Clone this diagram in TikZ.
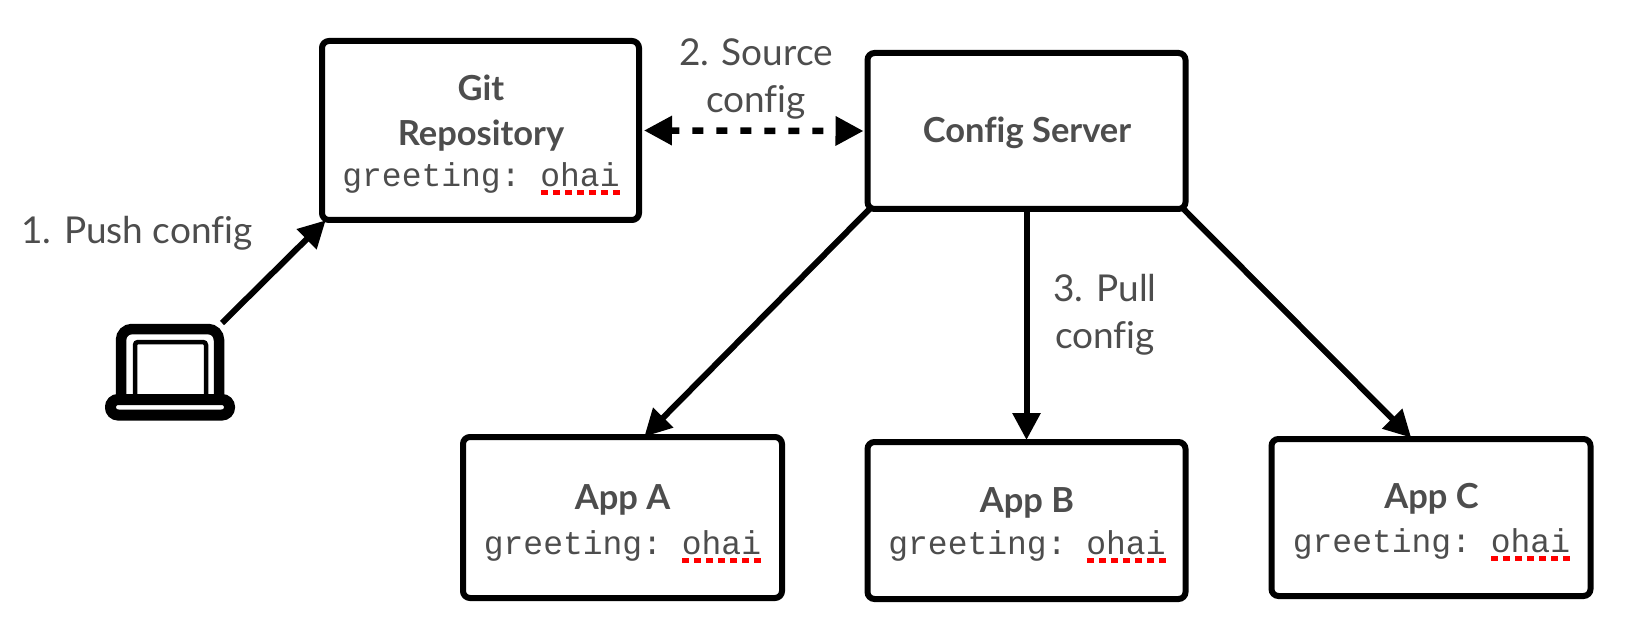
\documentclass[tikz,border=0pt]{standalone}
\usepackage{fontspec}
\setmainfont[Ligatures=NoCommon]{Lato}
\setmonofont{Liberation Mono}
\usetikzlibrary{arrows.meta,calc}
\definecolor{txt}{HTML}{4D4D4D}
\tikzset{
  x=1pt,y=-1pt,
  boxn/.style={draw=black,line width=6pt,rounded corners=7pt,fill=white,inner sep=0pt,minimum width=#1},
  lbl/.style={text=txt,font=\fontsize{37}{37}\selectfont,inner sep=0pt,align=center},
  ttl/.style={text=txt,font=\fontsize{34.5}{34.5}\selectfont\bfseries,inner sep=0pt},
  code/.style={text=txt,font=\fontsize{33}{33}\selectfont\ttfamily,inner sep=0pt},
  conn/.style={line width=6pt,-{Triangle[length=27pt,width=27pt]},shorten >=-1pt},
  bidir/.style={line width=6.5pt,dash pattern=on 11pt off 13pt,dash phase=2pt,{Triangle[length=28pt,width=28pt]}-{Triangle[length=28pt,width=28pt]}},
  squig/.style={red,line width=4.5pt,dash pattern=on 7pt off 5pt},
}
\begin{document}
\begin{tikzpicture}
\useasboundingbox (0,0) rectangle (1630,636);
\fill[white] (0,0) rectangle (1630,636);
% boxes
\node[boxn=317pt,minimum height=179pt] (git) at (480.5,130.5) {};
\node[boxn=318pt,minimum height=156pt] (cfg) at (1026.5,131) {};
\node[boxn=319pt,minimum height=161pt] (appa) at (622.5,517.5) {};
\node[boxn=318pt,minimum height=157pt] (appb) at (1026.5,520.5) {};
\node[boxn=319pt,minimum height=157pt] (appc) at (1431,517.5) {};
% laptop
\node[minimum width=130pt,minimum height=96pt,inner sep=0pt] (lap) at (170,372) {};
\draw[line width=10.5pt,rounded corners=11pt] (121,400) -- (121,329) -- (219,329) -- (219,400);
\draw[line width=4.5pt,rounded corners=3pt] (135,400) -- (135,342) -- (206,342) -- (206,400);
\draw[line width=11pt,rounded corners=7.5pt,fill=white] (110.5,399.5) rectangle (229.5,415);
% connectors
\coordinate (lapout) at (222,323);
\draw[conn] (lapout) -- ($(git.south west)+(6,-2)$);
\draw[bidir] ($(git.east)+(2,0)$) -- ($(cfg.west)+(-1,0)$);
\draw[conn] ($(cfg.south west)+(5,-3)$) -- ($(appa.north west)+(185,2)$);
\draw[conn] (cfg.south) -- (appb.north);
\draw[conn] ($(cfg.south east)+(-5,-3)$) -- ($(appc.north west)+(142,1)$);
% texts
\node[ttl] (t1) at (481,88) {Git};
\node[ttl] (t2) at (481,136) {Repository};
\node[code] (c1) at (481,178) {greeting: ohai};
\node[ttl] (t3) at (1027,133) {Config Server};
\node[ttl] (t4) at (622.5,500) {App A};
\node[code] (c2) at (622.5,546) {greeting: ohai};
\node[ttl] (t5) at (1027,503) {App B};
\node[code] (c3) at (1027,546) {greeting: ohai};
\node[ttl] (t6) at (1431.5,499) {App C};
\node[code] (c4) at (1431.5,544) {greeting: ohai};
\draw[squig] ($(c1.south east)+(-79,-1)$) -- ($(c1.south east)+(1,-1)$);
\draw[squig] ($(c2.south east)+(-79,-1)$) -- ($(c2.south east)+(1,-1)$);
\draw[squig] ($(c3.south east)+(-79,-1)$) -- ($(c3.south east)+(1,-1)$);
\draw[squig] ($(c4.south east)+(-79,-1)$) -- ($(c4.south east)+(1,-1)$);
\node[lbl] (l1) at (137,233) {1. Push config};
\node[lbl] (l2) at (756,52) {2. Source};
\node[lbl] (l2b) at (756,102) {config};
\node[lbl] (l3) at (1105,288) {3. Pull};
\node[lbl] (l3b) at (1105,338) {config};
\end{tikzpicture}
\end{document}
